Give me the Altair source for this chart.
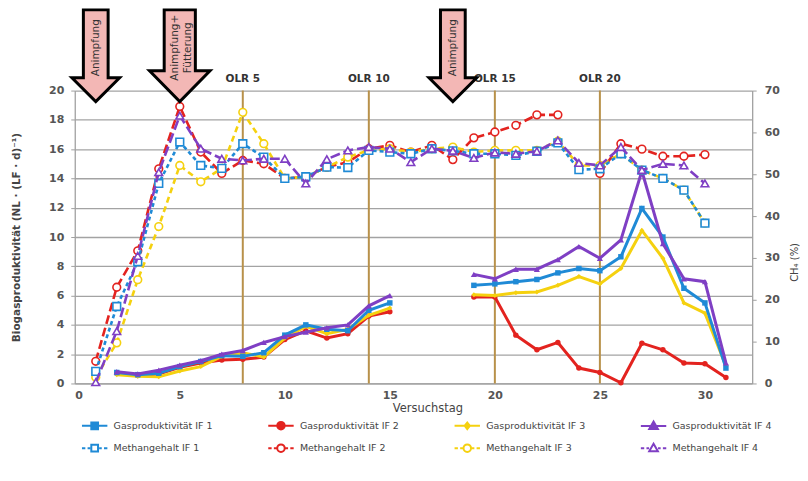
import altair as alt
import pandas as pd

# ---------------- data ----------------
gas_days = list(range(2, 32))
gas_if1 = [0.75, 0.6, 0.7, 1.15, 1.5, 1.9, 1.85, 2.1, 3.3, 4.0, 3.7, 3.6, 5.0, 5.5,
           None, None, None,
           6.7, 6.8, 6.95, 7.1, 7.55, 7.85, 7.7, 8.65, 11.95, 10.0, 6.5, 5.5, 1.05]
gas_if2 = [0.7, 0.55, 0.65, 1.1, 1.4, 1.6, 1.65, 1.8, 3.0, 3.6, 3.1, 3.4, 4.6, 4.9,
           None, None, None,
           5.9, 5.9, 3.3, 2.3, 2.8, 1.05, 0.75, 0.05, 2.75, 2.3, 1.4, 1.35, 0.4]
gas_if3 = [0.6, 0.5, 0.45, 0.85, 1.15, 1.85, 2.1, 1.8, 3.1, 3.9, 3.4, 3.7, 4.65, 5.15,
           None, None, None,
           6.05, 6.0, 6.2, 6.25, 6.7, 7.3, 6.8, 7.85, 10.45, 8.55, 5.5, 4.8, 1.2]
gas_if4 = [0.8, 0.65, 0.9, 1.25, 1.55, 2.0, 2.25, 2.8, 3.2, 3.5, 3.8, 4.0, 5.3, 6.0,
           None, None, None,
           7.45, 7.15, 7.8, 7.8, 8.45, 9.35, 8.55, 9.8, 14.5, 9.55, 7.15, 6.95, 1.4]

meth_days = list(range(1, 31))
meth_if1 = [2.9, 18.4, 29.1, 47.8, 57.7, 52.1, 51.4, 57.3, 54.1, 49.0, 49.4, 51.7, 51.6, 55.7, 55.3,
            54.9, 56.1, 55.6, 54.9, 54.9, 54.5, 55.5, 57.5, 51.1, 51.3, 54.9, 51.0, 49.0, 46.2, 38.3]
meth_if2 = [5.3, 23.0, 31.7, 51.3, 66.2, 55.3, 50.2, 53.3, 52.5, 49.0, 49.4, 51.7, 52.9, 56.1, 56.9,
            55.3, 56.9, 53.5, 58.7, 60.1, 61.7, 64.2, 64.2, None, 50.2, 57.3, 56.0, 54.3, 54.3, 54.7]
meth_if3 = [1.5, 9.7, 24.8, 37.5, 52.1, 48.2, 51.4, 64.8, 57.3, 49.0, 49.4, 51.7, 54.1, 55.7, 56.1,
            55.3, 56.1, 56.5, 55.3, 55.7, 55.7, 55.7, 57.9, 52.1, 52.1, 54.9, 51.0, 49.0, 46.2, 38.3]
meth_if4 = [0.3, 12.5, 30.5, 50.5, 64.0, 56.1, 53.7, 53.3, 53.7, 53.7, 47.8, 53.6, 55.7, 56.5, 56.1,
            52.9, 56.1, 55.6, 53.9, 55.2, 54.9, 55.5, 58.1, 52.7, 52.1, 56.5, 51.0, 52.5, 52.1, 47.8]

gas_names = ["Gasproduktivität IF 1", "Gasproduktivität IF 2",
             "Gasproduktivität IF 3", "Gasproduktivität IF 4"]
meth_names = ["Methangehalt IF 1", "Methangehalt IF 2",
              "Methangehalt IF 3", "Methangehalt IF 4"]

olr_days = [8, 14, 20, 25]
olr_labels = ["OLR 5", "OLR 10", "OLR 15", "OLR 20"]

arrow_days = [1, 5, 18]
arrow_labels = ["Animpfung", "Animpfung+\nFütterung", "Animpfung"]

# ---------------- styles ----------------
colors = ["#1f8ad6", "#e3231f", "#f5d10f", "#7f3fc4"]
gas_shapes = ["square", "circle", "diamond", "triangle-up"]
gas_sizes = [30, 30, 25, 38]
meth_shapes = ["square", "circle", "circle", "triangle-up"]
meth_dash = [[4, 3], [9, 4], [6, 4], [10, 4]]
FONT = "DejaVu Sans"


def frame(days, values, name):
    rows, seg = [], 0
    for d, v in zip(days, values):
        if v is None:
            seg += 1
            continue
        rows.append({"day": d, "value": v, "series": name, "seg": seg})
    return pd.DataFrame(rows)


gas_df = pd.concat([frame(gas_days, v, n) for v, n in
                    zip([gas_if1, gas_if2, gas_if3, gas_if4], gas_names)])
meth_df = pd.concat([frame(meth_days, v, n) for v, n in
                     zip([meth_if1, meth_if2, meth_if3, meth_if4], meth_names)])

x_enc = alt.X("day:Q", scale=alt.Scale(domain=[0, 32.25], nice=False, zero=False),
              axis=alt.Axis(values=[0, 5, 10, 15, 20, 25, 30], grid=False, ticks=False,
                            domainColor="#a0a0a0", domainWidth=1.3,
                            labelFont=FONT, labelFontWeight="bold", labelFontSize=11,
                            labelColor="#555555", labelPadding=6,
                            title="Versuchstag", titleFont=FONT, titleFontWeight="normal",
                            titleFontSize=11.5, titleColor="#444444", titlePadding=2,
                            titleX=354, titleAlign="center"))

left_axis = alt.Axis(values=list(range(0, 21, 2)), grid=True, gridColor="#a3a3a3",
                     gridWidth=1.3, tickSize=4, tickColor="#a0a0a0",
                     domainColor="#a0a0a0", domainWidth=1.3,
                     labelFont=FONT, labelFontWeight="bold", labelFontSize=11,
                     labelColor="#555555", labelPadding=7,
                     title="Biogasproduktivität  (NL · (LF · d)⁻¹)", titleFont=FONT,
                     titleFontSize=10.5, titleFontWeight="bold", titleColor="#444444",
                     titleX=-58, titleY=147, titleAngle=270, titleAlign="center",
                     titleBaseline="middle")
right_axis = alt.Axis(orient="right", values=list(range(0, 71, 10)), grid=False,
                      tickSize=4, tickColor="#a0a0a0", domainColor="#a0a0a0",
                      domainWidth=1.3,
                      labelFont=FONT, labelFontWeight="bold", labelFontSize=11,
                      labelColor="#555555", labelPadding=8,
                      title="CH₄ (%)", titleFont=FONT, titleFontSize=10,
                      titleFontWeight="normal", titleColor="#444444",
                      titleX=42, titleY=172, titleAngle=270, titleAlign="center",
                      titleBaseline="middle")

y_left = alt.Y("value:Q", scale=alt.Scale(domain=[0, 20], nice=False), axis=left_axis)
y_right = alt.Y("value:Q", scale=alt.Scale(domain=[0, 70], nice=False), axis=right_axis)

# ---------------- series layers ----------------
draw_order = [1, 2, 0, 3]
gas_layers = []
for i in draw_order:
    base = alt.Chart(gas_df).transform_filter(alt.datum.series == gas_names[i])
    gas_layers.append(base.mark_line(color=colors[i], strokeWidth=3).encode(
        x=x_enc, y=y_left, detail="seg:N"))
    gas_layers.append(base.mark_point(shape=gas_shapes[i], filled=True, color=colors[i],
                                      size=gas_sizes[i], opacity=1).encode(x=x_enc, y=y_left))

meth_layers = []
for i in draw_order:
    base = alt.Chart(meth_df).transform_filter(alt.datum.series == meth_names[i])
    meth_layers.append(base.mark_line(color=colors[i], strokeWidth=2.6,
                                      strokeDash=meth_dash[i]).encode(
        x=x_enc, y=y_right, detail="seg:N"))
    meth_layers.append(base.mark_point(shape=meth_shapes[i], filled=False, fill="white",
                                       stroke=colors[i], strokeWidth=1.6, size=60,
                                       opacity=1).encode(x=x_enc, y=y_right))

left_group = alt.layer(*gas_layers)
right_group = alt.layer(*meth_layers)

# ---------------- OLR markers ----------------
olr_df = pd.DataFrame({"day": olr_days, "label": olr_labels})
olr_rules = alt.Chart(olr_df).mark_rule(color="#b8914a", strokeWidth=2).encode(x=x_enc)
olr_text = alt.Chart(olr_df).mark_text(font=FONT, fontSize=10.5, fontWeight="bold",
                                       color="#333333", baseline="middle").encode(
    x=x_enc, y=alt.value(-12), text="label:N")

# ---------------- arrows ----------------
arrow_df = pd.DataFrame({"day": arrow_days, "label": arrow_labels})
narrow_path = ("M-0.27,-1 L0.27,-1 L0.27,0.48 L0.52,0.48 L0,1 "
               "L-0.52,0.48 L-0.27,0.48 Z")
wide_path = ("M-0.34,-1 L0.34,-1 L0.34,0.33 L0.66,0.33 L0,1 "
             "L-0.66,0.33 L-0.34,0.33 Z")
arrow_base = alt.Chart(arrow_df).transform_window(idx="row_number()")
arrows_narrow = arrow_base.transform_filter(alt.datum.idx != 2).mark_point(
    shape=narrow_path, filled=True, fill="#f3b7b5", stroke="black", strokeWidth=3,
    size=8464, opacity=1).encode(x=x_enc, y=alt.value(-35))
arrows_wide = arrow_base.transform_filter(alt.datum.idx == 2).mark_point(
    shape=wide_path, filled=True, fill="#f3b7b5", stroke="black", strokeWidth=3,
    size=8464, opacity=1).encode(x=x_enc, y=alt.value(-35))
text_style = dict(font=FONT, fontSize=10.5, color="#333333", angle=270, align="center",
                  baseline="middle", lineBreak="\n", lineHeight=13)
arrow_text_single = arrow_base.transform_filter(alt.datum.idx != 2).mark_text(
    **text_style).encode(x=x_enc, y=alt.value(-43), text="label:N")
arrow_text_double = arrow_base.transform_filter(alt.datum.idx == 2).mark_text(
    dy=-4.5, **text_style).encode(x=x_enc, y=alt.value(-43), text="label:N")

# ---------------- legend ----------------
L = 1.7
solid = f"M{-L},0L{L},0"
dashed = (f"M{-L},0L-1.25,0M-0.95,0L-0.6,0M0.6,0L0.95,0M1.25,0L{L},0")
sq = "M-0.45,-0.45L0.45,-0.45L0.45,0.45L-0.45,0.45Z"
ci = "M0.5,0A0.5,0.5,0,1,1,-0.5,0A0.5,0.5,0,1,1,0.5,0Z"
tri = "M0,-0.6L0.58,0.42L-0.58,0.42Z"
dia = "M0,-0.45L0.35,0L0,0.45L-0.35,0Z"
legend_paths = [solid + sq, solid + ci, solid + dia, solid + tri,
                dashed + sq, dashed + ci, dashed + ci, dashed + tri]
all_names = gas_names + meth_names
legend_strokes = colors + colors
legend_fills = colors + ["white"] * 4

leg = alt.Legend(title=None, orient="none", legendX=11.5, legendY=327.5, columns=4,
                 direction="horizontal", symbolSize=225, symbolStrokeWidth=2,
                 labelFont=FONT, labelFontSize=9.5, labelColor="#444444",
                 labelOffset=10.5, columnPadding=51, rowPadding=6, gridAlign="all",
                 padding=0, labelLimit=300)
legend_layer = alt.Chart(pd.DataFrame({"series": all_names})).transform_filter(
    "false").mark_point(opacity=1).encode(
    shape=alt.Shape("series:N", scale=alt.Scale(domain=all_names, range=legend_paths),
                    legend=leg, sort=all_names),
    stroke=alt.Stroke("series:N", scale=alt.Scale(domain=all_names, range=legend_strokes),
                      legend=leg, sort=all_names),
    fill=alt.Fill("series:N", scale=alt.Scale(domain=all_names, range=legend_fills),
                  legend=leg, sort=all_names),
)

chart = alt.layer(
    olr_rules, left_group, right_group, olr_text, arrows_narrow, arrows_wide,
    arrow_text_single, arrow_text_double, legend_layer
).resolve_scale(y="independent").properties(
    width=680, height=294,
    padding={"left": 67, "top": 82, "right": 48, "bottom": 90},
    autosize=alt.AutoSizeParams(type="none"),
    background="white",
).configure_view(strokeWidth=0)

chart.save("out.html", embed_options={"renderer": "svg", "actions": False})
